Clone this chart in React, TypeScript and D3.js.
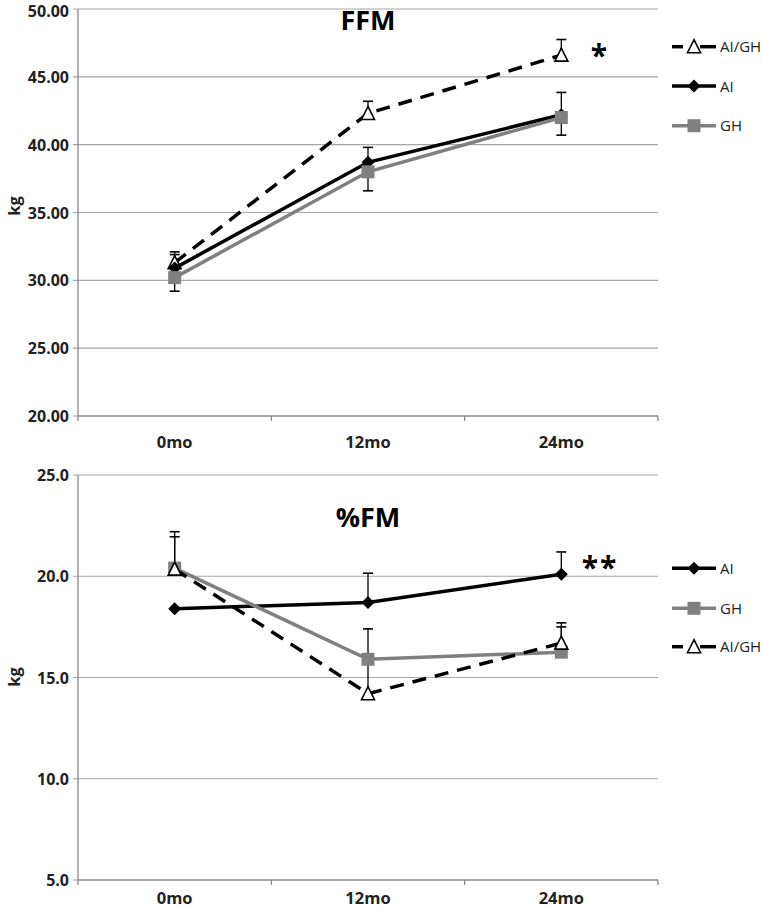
import React from "react";
import * as d3 from "d3";

const categories = ["0mo", "12mo", "24mo"];

// FFM (top panel)
const ffmTicks = [20, 25, 30, 35, 40, 45, 50];
const ffmAIGH = [31.3, 42.3, 46.6];
const ffmAIGHErr = [0.8, 0.9, 1.15];
const ffmAI = [30.9, 38.7, 42.2];
const ffmAIErr = [1.0, 1.1, 1.65];
const ffmGH = [30.2, 38.0, 42.0];
const ffmGHErr = [1.0, 1.4, 1.3];

// %FM (bottom panel)
const fmTicks = [5, 10, 15, 20, 25];
const fmAI = [18.4, 18.7, 20.1];
const fmAIErr = [0, 1.45, 1.1];
const fmGH = [20.4, 15.9, 16.25];
const fmGHErr = [1.8, 0, 1.25];
const fmAIGH = [20.35, 14.2, 16.7];
const fmAIGHErr = [1.6, 3.2, 1.0];

const FONT = "'Open Sans', sans-serif";
const GRID = "#a6a6a6";
const GRAY = "#808080";

type Series = {
  name: string;
  values: number[];
  err: number[];
  dir: 1 | -1;
  color: string;
  dashed: boolean;
  marker: "triangle" | "diamond" | "square";
};

function Marker({ type, x, y }: { type: string; x: number; y: number }) {
  if (type === "diamond") {
    const r = 6.5;
    return <path d={`M${x},${y - r}L${x + r},${y}L${x},${y + r}L${x - r},${y}Z`} fill="#000" />;
  }
  if (type === "square") {
    const s = 13;
    return <rect x={x - s / 2} y={y - s / 2} width={s} height={s} fill={GRAY} />;
  }
  const h = 12, w = 13;
  return (
    <path
      d={`M${x},${y - h / 2 - 1}L${x + w / 2},${y + h / 2}L${x - w / 2},${y + h / 2}Z`}
      fill="#fff"
      stroke="#000"
      strokeWidth={1.6}
    />
  );
}

function Panel({
  top, bottom, ticks, fmt, title, titleY, series, legendYs, star, starY, xLabelY, kgY,
}: {
  top: number; bottom: number; ticks: number[]; fmt: (v: number) => string; title: string;
  titleY: number; series: Series[]; legendYs: number[]; star: string; starY: number;
  xLabelY: number; kgY: number;
}) {
  const left = 78, right = 658;
  const x = d3.scalePoint<string>().domain(categories).range([left, right]).padding(0.5);
  const y = d3.scaleLinear().domain([ticks[0], ticks[ticks.length - 1]]).range([bottom, top]);
  const step = x.step();
  const line = d3.line<number>().x((_, i) => x(categories[i])!).y((v) => y(v));
  return (
    <g>
      {ticks.map((t) => (
        <g key={t}>
          <line x1={left - 5} x2={right} y1={y(t)} y2={y(t)} stroke={GRID} strokeWidth={1.2} />
          <text x={69} y={Math.max(y(t) + 6, 16.5)} textAnchor="end" fontFamily={FONT} fontWeight="bold" fontSize={16} fill="#222">
            {fmt(t)}
          </text>
        </g>
      ))}
      <line x1={left} x2={left} y1={top} y2={bottom} stroke={GRAY} strokeWidth={1.2} />
      <line x1={left} x2={right} y1={bottom} y2={bottom} stroke={GRAY} strokeWidth={1.2} />
      {d3.range(categories.length + 1).map((i) => (
        <line key={i} x1={left + i * step} x2={left + i * step} y1={bottom} y2={bottom + 5} stroke={GRAY} strokeWidth={1.2} />
      ))}
      {categories.map((c) => (
        <text key={c} x={x(c)} y={xLabelY} textAnchor="middle" fontFamily={FONT} fontWeight="bold" fontSize={16.5} fill="#222">
          {c}
        </text>
      ))}
      <text transform={`translate(20,${kgY}) rotate(-90)`} textAnchor="middle" fontFamily={FONT} fontWeight="bold" fontSize={16.5} fill="#222">
        kg
      </text>
      <text x={368} y={titleY} textAnchor="middle" fontFamily={FONT} fontWeight="bold" fontSize={27} fill="#000">
        {title}
      </text>
      <text x={600} y={starY} textAnchor="middle" fontFamily={FONT} fontWeight="bold" fontSize={30} fill="#000" letterSpacing={2}>
        {star}
      </text>
      {series.map((s) => (
        <g key={s.name}>
          {s.values.map((v, i) =>
            s.err[i] > 0 ? (
              <g key={i}>
                <line x1={x(categories[i])} x2={x(categories[i])} y1={y(v)} y2={y(v + s.dir * s.err[i])} stroke="#000" strokeWidth={1.3} />
                <line x1={x(categories[i])! - 5} x2={x(categories[i])! + 5} y1={y(v + s.dir * s.err[i])} y2={y(v + s.dir * s.err[i])} stroke="#000" strokeWidth={1.6} />
              </g>
            ) : null
          )}
        </g>
      ))}
      {series.map((s) => (
        <g key={s.name}>
          <path d={line(s.values)!} fill="none" stroke={s.color} strokeWidth={3.5} strokeDasharray={s.dashed ? "14,9" : undefined} />
          {s.values.map((v, i) => (
            <Marker key={i} type={s.marker} x={x(categories[i])!} y={y(v)} />
          ))}
        </g>
      ))}
      {series.map((s, i) => (
        <g key={s.name}>
          {s.dashed ? (
            <>
              <line x1={672} x2={683} y1={legendYs[i]} y2={legendYs[i]} stroke="#000" strokeWidth={3.5} />
              <line x1={700} x2={716} y1={legendYs[i]} y2={legendYs[i]} stroke="#000" strokeWidth={3.5} />
            </>
          ) : (
            <line x1={672} x2={716} y1={legendYs[i]} y2={legendYs[i]} stroke={s.color} strokeWidth={3.5} />
          )}
          <Marker type={s.marker} x={694} y={legendYs[i]} />
          <text x={720} y={legendYs[i] + 5.5} fontFamily={FONT} fontSize={15} fill="#222">
            {s.name}
          </text>
        </g>
      ))}
    </g>
  );
}

export default function App() {
  const topSeries: Series[] = [
    { name: "AI/GH", values: ffmAIGH, err: ffmAIGHErr, dir: 1, color: "#000", dashed: true, marker: "triangle" },
    { name: "AI", values: ffmAI, err: ffmAIErr, dir: 1, color: "#000", dashed: false, marker: "diamond" },
    { name: "GH", values: ffmGH, err: ffmGHErr, dir: -1, color: GRAY, dashed: false, marker: "square" },
  ];
  const botSeries: Series[] = [
    { name: "AI", values: fmAI, err: fmAIErr, dir: 1, color: "#000", dashed: false, marker: "diamond" },
    { name: "GH", values: fmGH, err: fmGHErr, dir: 1, color: GRAY, dashed: false, marker: "square" },
    { name: "AI/GH", values: fmAIGH, err: fmAIGHErr, dir: 1, color: "#000", dashed: true, marker: "triangle" },
  ];
  return (
    <svg width={762} height={908} style={{ position: "absolute", left: 0, top: 0, background: "#fff" }}>
      <rect width={762} height={908} fill="#fff" />
      <Panel
        top={9} bottom={416} ticks={ffmTicks} fmt={(v) => v.toFixed(2)} title="FFM" titleY={30}
        series={topSeries} legendYs={[46.7, 86, 125.7]} star="*" starY={66} xLabelY={448} kgY={206}
      />
      <Panel
        top={475} bottom={880} ticks={fmTicks} fmt={(v) => v.toFixed(1)} title="%FM" titleY={527}
        series={botSeries} legendYs={[568.3, 608.3, 646.7]} star="**" starY={578} xLabelY={904} kgY={677}
      />
    </svg>
  );
}
